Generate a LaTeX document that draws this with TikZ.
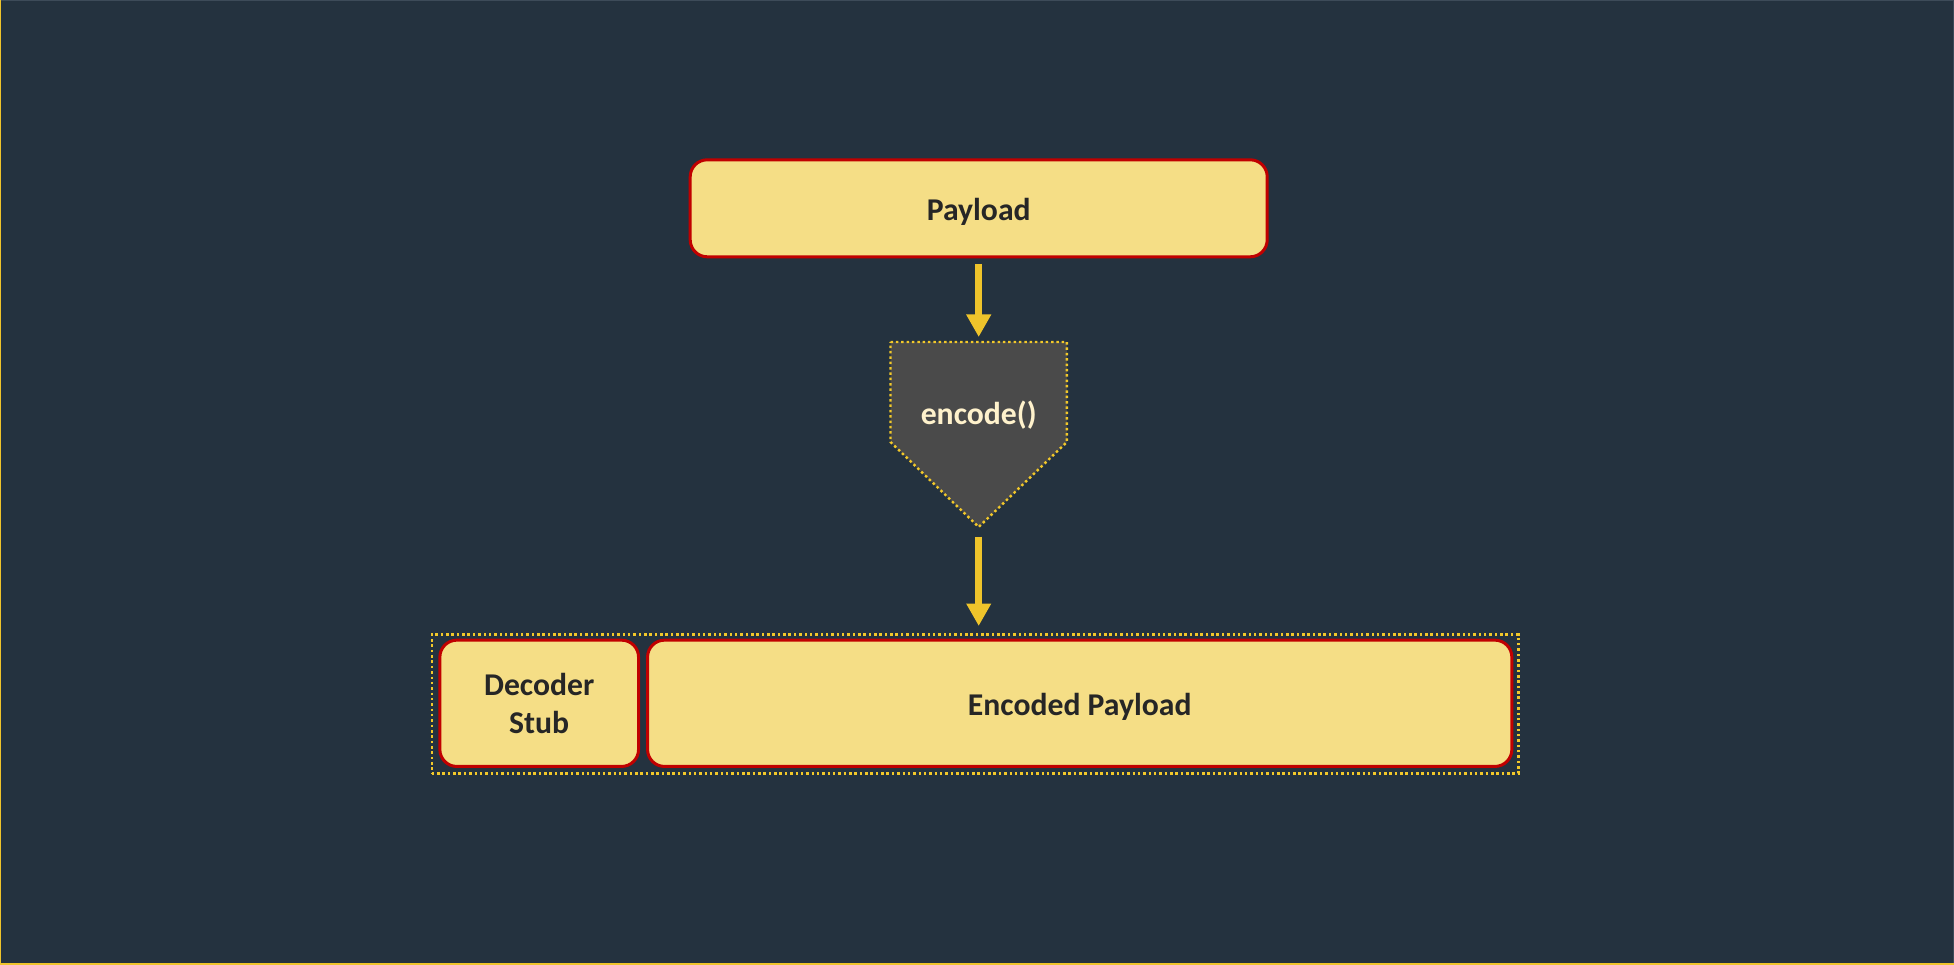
\documentclass[tikz,border=0pt]{standalone}
\usepackage{fontspec}
\setmainfont{Carlito}
\usetikzlibrary{arrows.meta}

\definecolor{bg}{HTML}{24323F}
\definecolor{boxfill}{HTML}{F5DE86}
\definecolor{boxline}{HTML}{C00000}
\definecolor{ink}{HTML}{262626}
\definecolor{gold}{HTML}{EFC42B}
\definecolor{dotgold}{HTML}{F2C82A}
\definecolor{stepfill}{HTML}{4A4A4A}
\definecolor{cream}{HTML}{FFF2CC}
\definecolor{edgegray}{HTML}{3D4B59}

\begin{document}
\begin{tikzpicture}[x=1pt,y=-1pt,
  label text/.style={font=\fontsize{31.7}{38}\selectfont\bfseries},
  block/.style={label text, draw=boxline, line width=3pt, fill=boxfill,
    rounded corners=17pt, outer sep=0pt, inner sep=0pt, text=ink},
  flow/.style={draw=gold, line width=7.5pt,
    -{Triangle[width=23.5pt,length=22.5pt]}},
  dotframe/.style={draw=dotgold, line width=2.4pt, dash pattern=on 2.5pt off 2.85pt},
]
% canvas
\useasboundingbox (0,0) rectangle (1954,965);
\fill[bg] (0,0) rectangle (1954,965);
\draw[edgegray, line width=1pt] (0,0.5) -- (1954,0.5);
\draw[edgegray, line width=1pt] (1953.5,0) -- (1953.5,965);
\draw[gold, line width=1.4pt] (0.7,0) -- (0.7,965);
\draw[gold, line width=2pt] (0,964) -- (1954,964);

% input block
\node[block, minimum width=577pt, minimum height=97pt,
  text height=24.8pt, text depth=0pt] (payload) at (978.7,208.3) {Payload};

% encoding step (pentagon pointing down)
\coordinate (encTop) at (978.7,342);
\coordinate (encTip) at (978.7,527);
\path[fill=stepfill, dotframe] (encTop) ++(-88.2,0) -- ++(176.4,0) -- ++(0,100)
  -- (encTip) -- ++(-88.2,-85) -- cycle;
\node[label text, text=cream, anchor=base, inner sep=0pt] (encode) at (978.7,424) {encode()};

% output group
\node[dotframe, minimum width=1086.6pt, minimum height=138.8pt,
  inner sep=0pt, outer sep=0pt] (group) at (975,703.9) {};
\node[block, minimum width=198.7pt, minimum height=126.3pt, align=center]
  (stub) at (539.2,703.3) {Decoder\\Stub};
\node[block, minimum width=864.3pt, minimum height=126.3pt,
  text height=23.4pt, text depth=0pt] (encoded) at (1079.7,703.3) {Encoded Payload};

% connectors
\draw[flow, shorten <=7pt, shorten >=5pt] (payload.south) -- (encTop);
\draw[flow, shorten <=9.7pt, shorten >=8.5pt] (encTip) -- (encTip |- group.north);
\end{tikzpicture}
\end{document}
